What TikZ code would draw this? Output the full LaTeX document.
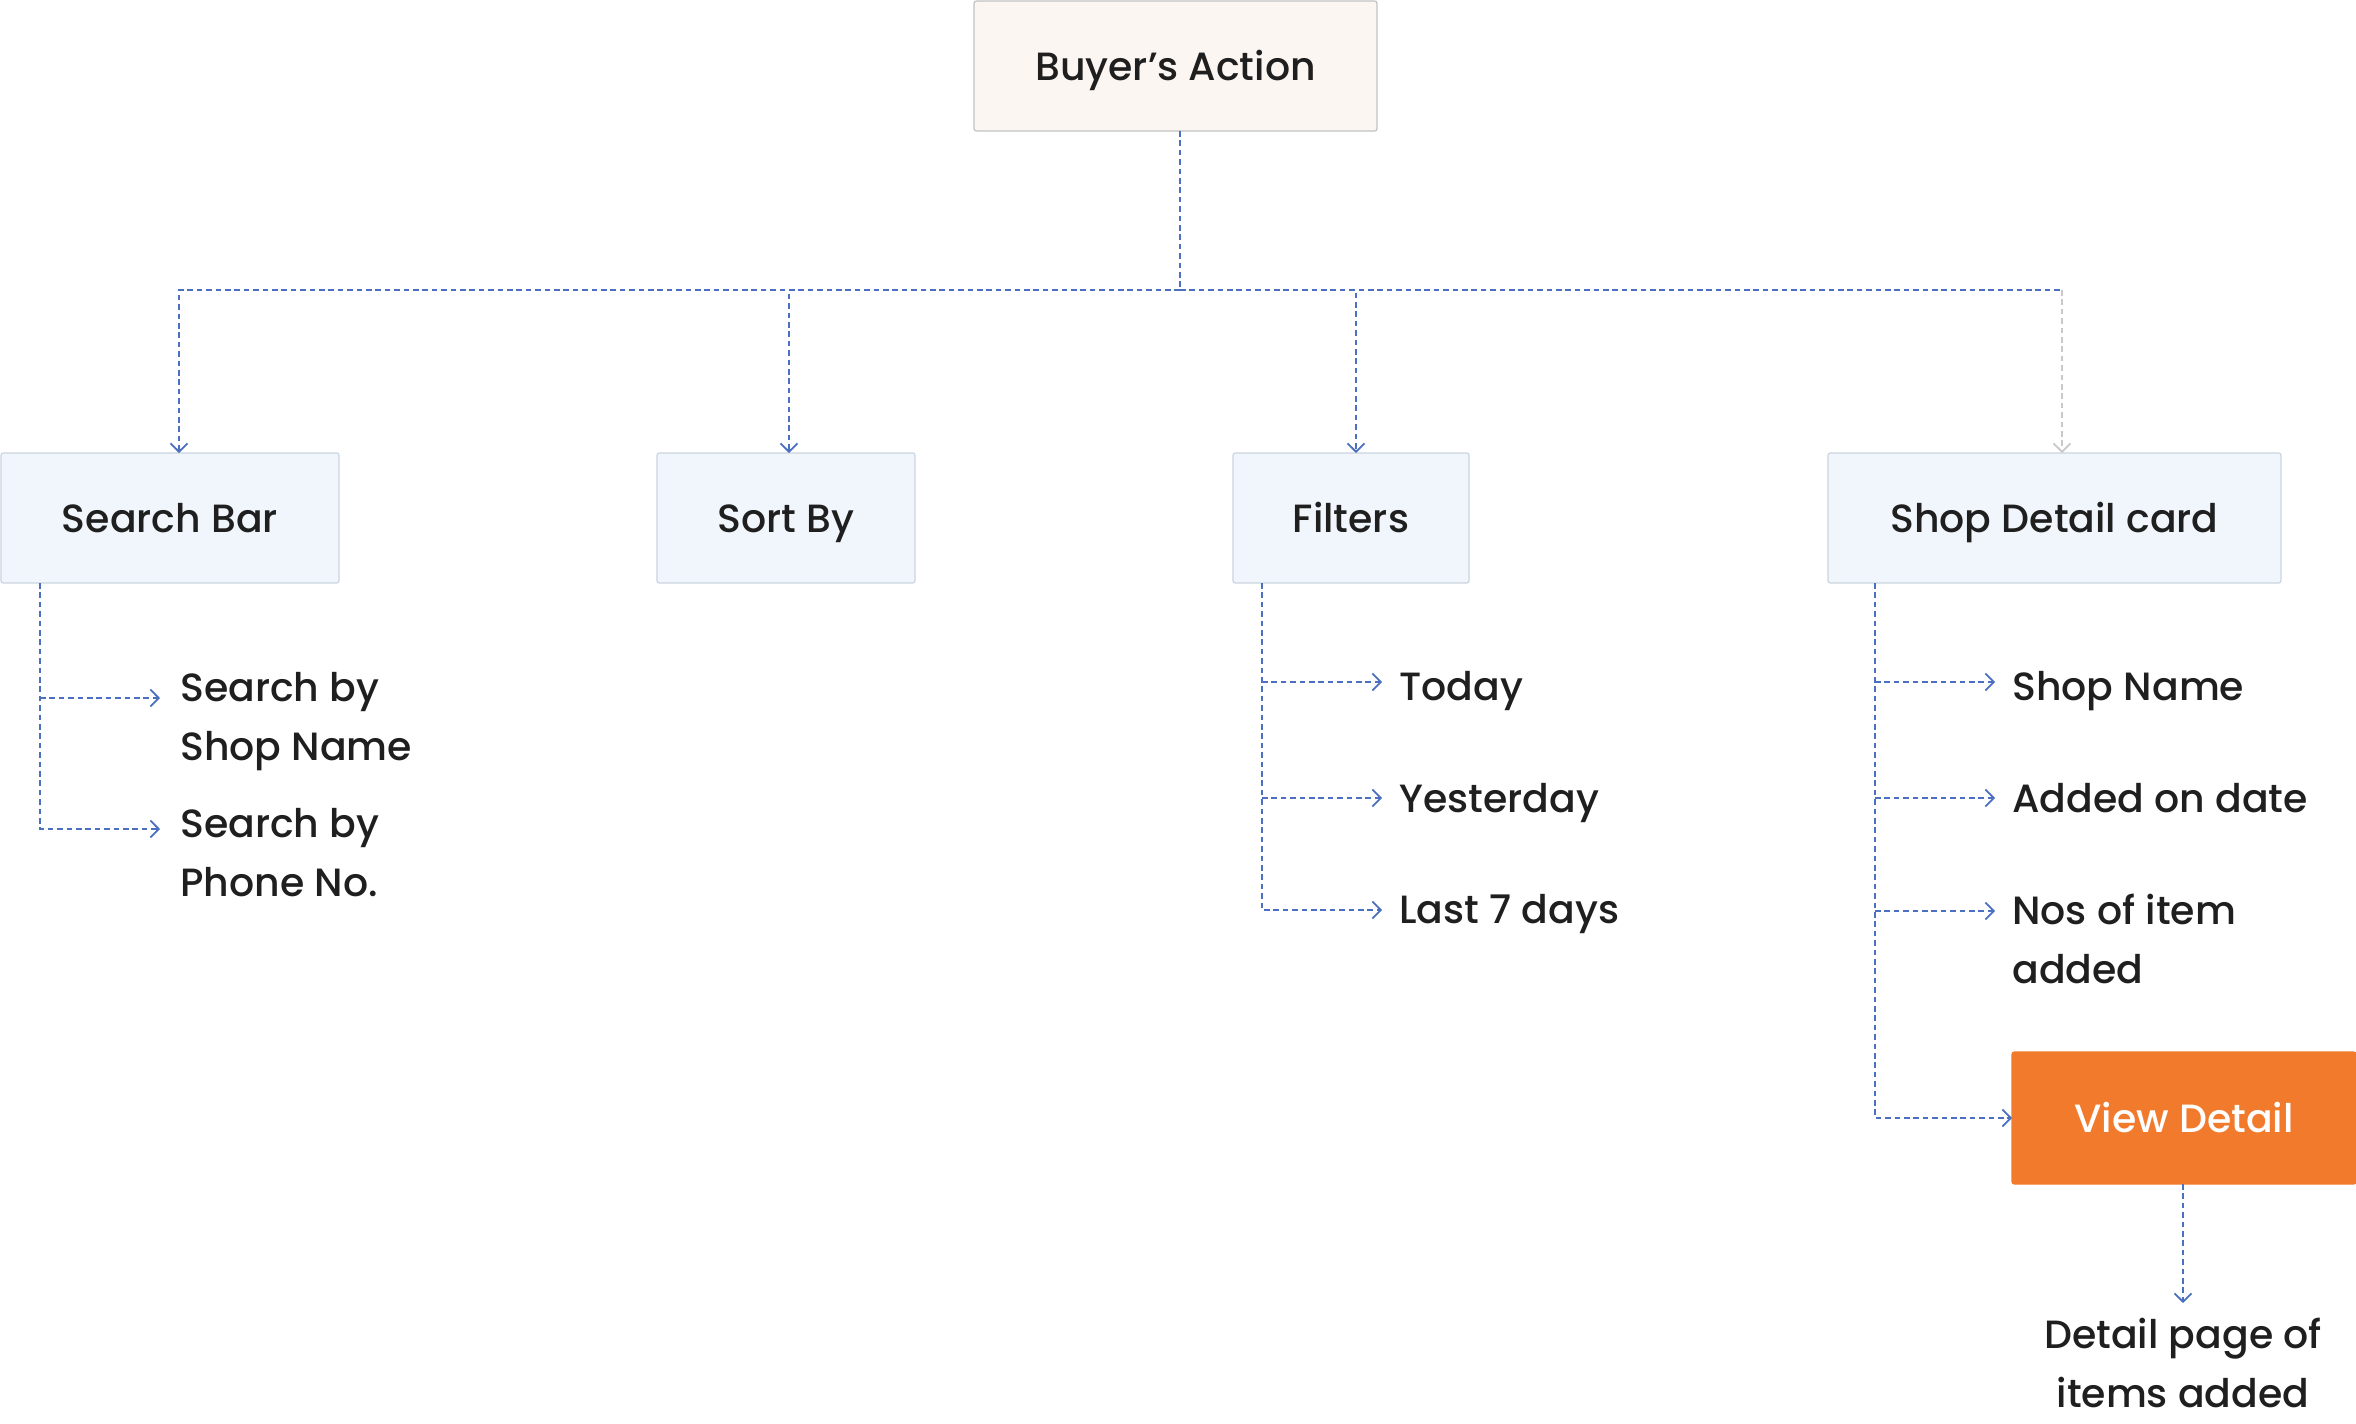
\documentclass[tikz,border=0pt]{standalone}
\usepackage{fontspec}
\setmainfont{Poppins Medium}
\usetikzlibrary{arrows.meta}
\definecolor{lineblue}{HTML}{4B70C0}
\definecolor{linegray}{HTML}{C9C9C9}
\definecolor{ink}{HTML}{1F1F1F}
\definecolor{bafill}{HTML}{FCF6F2}
\definecolor{baline}{HTML}{C2C2C2}
\definecolor{bxfill}{HTML}{F0F6FC}
\definecolor{bxline}{HTML}{CAD4DF}
\definecolor{orange}{HTML}{F27A2C}
\newcommand{\fsz}{\fontsize{19.7pt}{29.5pt}\selectfont}
\begin{document}
\begin{tikzpicture}[x=0.5pt,y=-0.5pt,
  conn/.style={draw=lineblue, line width=0.95pt, dash pattern=on 2.8pt off 1.9pt},
  tipped/.style={-{Straight Barb[length=4.2pt,width=8.5pt,line width=0.9pt]}},
  box/.style={draw=bxline, fill=bxfill, line width=0.6pt, rounded corners=1.2pt,
    inner sep=0pt, outer sep=0pt, minimum height=65pt, text height=14.5pt, text depth=0pt,
    font=\fsz, text=ink},
  lbl/.style={anchor=base west, font=\fsz, text=ink, inner sep=0pt, align=left}]
\useasboundingbox (0,0) rectangle (2356,1424);

% boxes
\node[box, draw=baline, fill=bafill, minimum width=201.5pt] (ba) at (1175.5,66) {Buyer’s Action};
\node[box, minimum width=169pt] (sb) at (170,518) {Search Bar};
\node[box, minimum width=129pt] (so) at (786,518) {Sort By};
\node[box, minimum width=118pt] (fi) at (1351,518) {Filters};
\node[box, minimum width=226.5pt] (sh) at (2054.5,518) {Shop Detail card};
\node[box, draw=orange, fill=orange, text=white, minimum width=172pt, minimum height=66pt] (vd) at (2184,1118) {View Detail};

% text items (base = last line baseline)
\node[lbl] (t1) at (180,760) {Search by\\Shop Name};
\node[lbl] (t2) at (180,896) {Search by\\Phone No.};
\node[lbl] (f1) at (1399,700) {Today};
\node[lbl] (f2) at (1399,812) {Yesterday};
\node[lbl] (f3) at (1399,923) {Last 7 days};
\node[lbl] (s1) at (2012,700) {Shop Name};
\node[lbl] (s2) at (2012,812) {Added on date};
\node[lbl] (s3) at (2012,983) {Nos of item\\added};
\node[anchor=base, font=\fsz, text=ink, inner sep=0pt, align=center] (dp) at (2183,1407) {Detail page of\\items added};

% top tree
\coordinate (hub) at (1180,290);
\coordinate (sbt) at (179,453);
\coordinate (sot) at (789,453);
\coordinate (fit) at (1356,453);
\coordinate (sht) at (2062,453);
\coordinate (shc) at (2062,290);
\draw[conn] (ba.south -| hub) -- (hub);
\draw[conn, tipped] (hub) -| (sbt);
\draw[conn, tipped] (hub) -| (sot);
\draw[conn, tipped] (hub) -| (fit);
\draw[conn] (hub) -- (shc);
\draw[conn, draw=linegray, tipped] (shc) -- (sht);

% search bar children
\coordinate (sbv) at (40,829);
\draw[conn, tipped] (sb.south -| sbv) -- (sbv) -- (160,829);
\draw[conn, tipped] (40,698) -- (160,698);

% filters children
\coordinate (fiv) at (1262,910);
\draw[conn, tipped] (fi.south -| fiv) -- (fiv) -- (1382,910);
\draw[conn, tipped] (1262,682) -- (1382,682);
\draw[conn, tipped] (1262,798) -- (1382,798);

% shop children
\coordinate (shv) at (1875,1118);
\draw[conn, tipped] (sh.south -| shv) -- (shv) -- (vd.west);
\draw[conn, tipped] (1875,682) -- (1995,682);
\draw[conn, tipped] (1875,798) -- (1995,798);
\draw[conn, tipped] (1875,911) -- (1995,911);

% view detail to page
\coordinate (dpt) at (2183,1303);
\draw[conn, tipped] (vd.south -| dpt) -- (dpt);
\end{tikzpicture}
\end{document}
